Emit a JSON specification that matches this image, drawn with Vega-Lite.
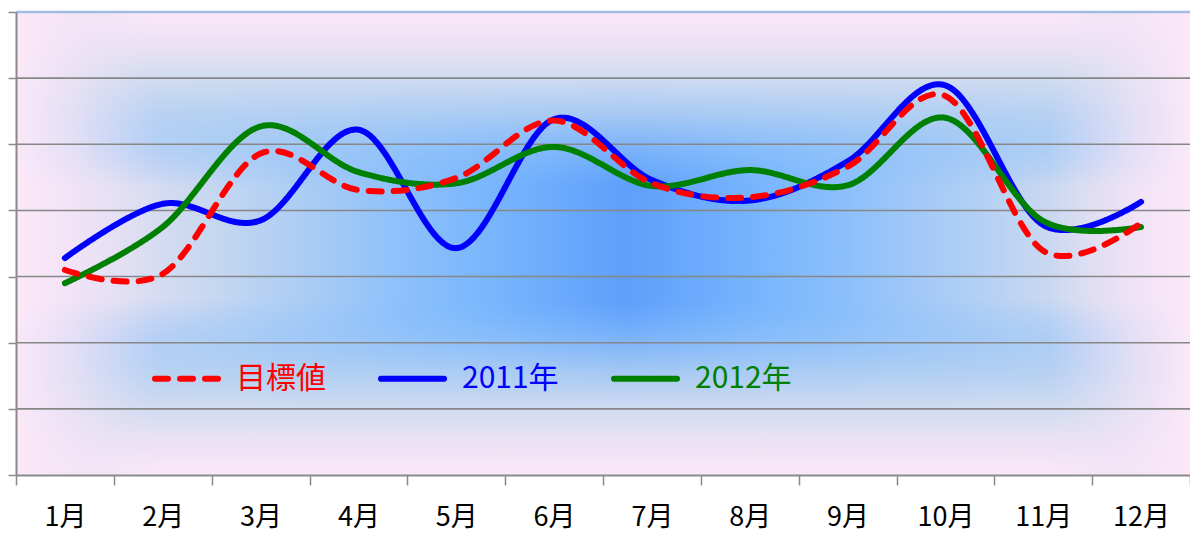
{
  "$schema": "https://vega.github.io/schema/vega-lite/v6.json",
  "width": 1174,
  "height": 463,
  "autosize": {"type": "none"},
  "padding": {"left": 16, "top": 12, "right": 0, "bottom": 60},
  "background": "white",
  "config": {
    "view": {"stroke": null},
    "font": "Noto Sans CJK JP"
  },
  "datasets": {
    "one": [{}],
    "series": [
      {"month": "1月", "series": "2011年", "value": 32.8},
      {"month": "2月", "series": "2011年", "value": 41.0},
      {"month": "3月", "series": "2011年", "value": 38.5},
      {"month": "4月", "series": "2011年", "value": 52.2},
      {"month": "5月", "series": "2011年", "value": 34.3},
      {"month": "6月", "series": "2011年", "value": 53.8},
      {"month": "7月", "series": "2011年", "value": 44.6},
      {"month": "8月", "series": "2011年", "value": 41.5},
      {"month": "9月", "series": "2011年", "value": 47.4},
      {"month": "10月", "series": "2011年", "value": 58.9},
      {"month": "11月", "series": "2011年", "value": 37.8},
      {"month": "12月", "series": "2011年", "value": 41.3},
      {"month": "1月", "series": "2012年", "value": 29.0},
      {"month": "2月", "series": "2012年", "value": 37.5},
      {"month": "3月", "series": "2012年", "value": 52.7},
      {"month": "4月", "series": "2012年", "value": 45.8},
      {"month": "5月", "series": "2012年", "value": 44.1},
      {"month": "6月", "series": "2012年", "value": 49.6},
      {"month": "7月", "series": "2012年", "value": 43.7},
      {"month": "8月", "series": "2012年", "value": 46.1},
      {"month": "9月", "series": "2012年", "value": 43.8},
      {"month": "10月", "series": "2012年", "value": 54.0},
      {"month": "11月", "series": "2012年", "value": 38.4},
      {"month": "12月", "series": "2012年", "value": 37.5},
      {"month": "1月", "series": "目標値", "value": 31.0},
      {"month": "2月", "series": "目標値", "value": 30.4},
      {"month": "3月", "series": "目標値", "value": 48.6},
      {"month": "4月", "series": "目標値", "value": 43.1},
      {"month": "5月", "series": "目標値", "value": 44.9},
      {"month": "6月", "series": "目標値", "value": 53.6},
      {"month": "7月", "series": "目標値", "value": 44.1},
      {"month": "8月", "series": "目標値", "value": 42.0},
      {"month": "9月", "series": "目標値", "value": 46.6},
      {"month": "10月", "series": "目標値", "value": 57.3},
      {"month": "11月", "series": "目標値", "value": 33.9},
      {"month": "12月", "series": "目標値", "value": 38.1}
    ]
  },
  "layer": [
    {
      "data": {"name": "one"},
      "mark": {
        "type": "rect",
        "fill": {
          "gradient": "linear", "x1": 0, "y1": 0, "x2": 1, "y2": 0,
          "stops": [
            {"offset": 0, "color": "#fbe8f8"},
            {"offset": 0.07, "color": "#e6e0f4"},
            {"offset": 0.16, "color": "#c9d8f0"},
            {"offset": 0.25, "color": "#a9ccf5"},
            {"offset": 0.33, "color": "#8dc0fb"},
            {"offset": 0.40, "color": "#7ab6fd"},
            {"offset": 0.52, "color": "#5d9ffb"},
            {"offset": 0.64, "color": "#7ab6fd"},
            {"offset": 0.71, "color": "#8dc0fb"},
            {"offset": 0.79, "color": "#a9ccf5"},
            {"offset": 0.88, "color": "#c9d8f0"},
            {"offset": 0.95, "color": "#e6e0f4"},
            {"offset": 1, "color": "#fbe8f8"}
          ]
        }
      },
      "encoding": {}
    },
    {
      "data": {"name": "one"},
      "mark": {
        "type": "rect",
        "fill": {
          "gradient": "linear", "x1": 0, "y1": 0, "x2": 0, "y2": 1,
          "stops": [
            {"offset": 0, "color": "rgba(251,232,248,1)"},
            {"offset": 0.07, "color": "rgba(236,226,244,1)"},
            {"offset": 0.14, "color": "rgba(210,220,240,1)"},
            {"offset": 0.22, "color": "rgba(180,208,242,0.85)"},
            {"offset": 0.30, "color": "rgba(150,196,248,0.5)"},
            {"offset": 0.38, "color": "rgba(128,188,255,0)"},
            {"offset": 0.62, "color": "rgba(128,188,255,0)"},
            {"offset": 0.70, "color": "rgba(150,196,248,0.5)"},
            {"offset": 0.78, "color": "rgba(180,208,242,0.85)"},
            {"offset": 0.86, "color": "rgba(210,220,240,1)"},
            {"offset": 0.93, "color": "rgba(236,226,244,1)"},
            {"offset": 1, "color": "rgba(251,232,248,1)"}
          ]
        }
      },
      "encoding": {}
    },
    {
      "data": {"name": "one"},
      "mark": {
        "type": "rect",
        "fill": {
          "gradient": "linear", "x1": 0, "y1": 0, "x2": 1, "y2": 0,
          "stops": [
            {"offset": 0, "color": "rgba(251,232,248,1)"},
            {"offset": 0.05, "color": "rgba(242,228,246,0.7)"},
            {"offset": 0.12, "color": "rgba(230,224,244,0)"},
            {"offset": 0.88, "color": "rgba(230,224,244,0)"},
            {"offset": 0.95, "color": "rgba(242,228,246,0.7)"},
            {"offset": 1, "color": "rgba(251,232,248,1)"}
          ]
        }
      },
      "encoding": {}
    },
    {"data": {"name": "one"}, "mark": {"type": "rule", "color": "#878787", "strokeWidth": 1.6}, "encoding": {"y": {"datum": 10, "type": "quantitative"}}},
    {"data": {"name": "one"}, "mark": {"type": "rule", "color": "#878787", "strokeWidth": 1.6}, "encoding": {"y": {"datum": 20, "type": "quantitative"}}},
    {"data": {"name": "one"}, "mark": {"type": "rule", "color": "#878787", "strokeWidth": 1.6}, "encoding": {"y": {"datum": 30, "type": "quantitative"}}},
    {"data": {"name": "one"}, "mark": {"type": "rule", "color": "#878787", "strokeWidth": 1.6}, "encoding": {"y": {"datum": 40, "type": "quantitative"}}},
    {"data": {"name": "one"}, "mark": {"type": "rule", "color": "#878787", "strokeWidth": 1.6}, "encoding": {"y": {"datum": 50, "type": "quantitative"}}},
    {"data": {"name": "one"}, "mark": {"type": "rule", "color": "#878787", "strokeWidth": 1.6}, "encoding": {"y": {"datum": 60, "type": "quantitative"}}},
    {"data": {"name": "one"}, "mark": {"type": "rule", "color": "#a3bce4", "strokeWidth": 2.5}, "encoding": {"y": {"datum": 70, "type": "quantitative"}}},
    {
      "data": {"name": "series"},
      "mark": {"type": "line", "interpolate": "cardinal", "strokeWidth": 6, "strokeCap": "round", "strokeJoin": "round"},
      "encoding": {
        "x": {
          "field": "month", "type": "nominal",
          "sort": ["1月","2月","3月","4月","5月","6月","7月","8月","9月","10月","11月","12月"],
          "scale": {"type": "band", "paddingInner": 0, "paddingOuter": 0},
          "axis": {
            "title": null, "labelAngle": 0, "tickBand": "extent",
            "labelFontSize": 27, "labelColor": "#000000", "labelPadding": 19,
            "labelFont": "Noto Sans CJK JP",
            "tickSize": 10, "tickColor": "#8a8a8a", "tickWidth": 1.5,
            "domainColor": "#8a8a8a", "domainWidth": 2, "grid": false, "zindex": 1
          }
        },
        "y": {
          "field": "value", "type": "quantitative",
          "scale": {"domain": [0, 70], "nice": false, "zero": true},
          "axis": {
            "title": null, "labels": false, "grid": false,
            "values": [0, 10, 20, 30, 40, 50, 60, 70],
            "tickSize": 8, "tickColor": "#8a8a8a", "tickWidth": 1.5,
            "domainColor": "#8a8a8a", "domainWidth": 2, "zindex": 1
          }
        },
        "color": {
          "field": "series", "type": "nominal",
          "scale": {"domain": ["目標値", "2011年", "2012年"], "range": ["#ff0000", "#0000ff", "#008000"]},
          "legend": {
            "title": null, "orient": "none", "direction": "horizontal",
            "legendX": 136, "legendY": 332, "padding": 0,
            "symbolType": "stroke", "symbolSize": 3969, "symbolStrokeWidth": 6,
            "labelFontSize": 30, "labelFont": "Noto Sans CJK JP", "labelOffset": 15,
            "columnPadding": 43, "labelLimit": 300,
            "encode": {
              "labels": {"update": {"fill": {"scale": "color", "field": "value"}}},
              "symbols": {"update": {"strokeCap": {"value": "round"}}}
            }
          }
        },
        "strokeDash": {
          "field": "series", "type": "nominal",
          "scale": {"domain": ["目標値", "2011年", "2012年"], "range": [[13, 12], [1, 0], [1, 0]]},
          "legend": {
            "title": null, "orient": "none", "direction": "horizontal",
            "legendX": 136, "legendY": 332, "padding": 0,
            "symbolType": "stroke", "symbolSize": 3969, "symbolStrokeWidth": 6,
            "labelFontSize": 30, "labelFont": "Noto Sans CJK JP", "labelOffset": 15,
            "columnPadding": 43, "labelLimit": 300,
            "encode": {
              "labels": {"update": {"fill": {"scale": "color", "field": "value"}}},
              "symbols": {"update": {"strokeCap": {"value": "round"}}}
            }
          }
        }
      }
    }
  ]
}
